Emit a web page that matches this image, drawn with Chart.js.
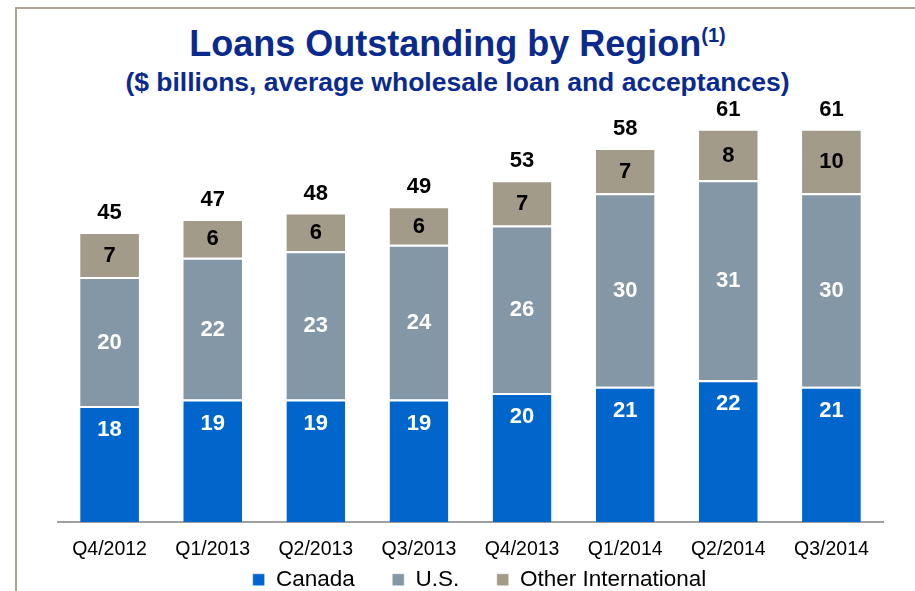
<!DOCTYPE html>
<html>
<head>
<meta charset="utf-8">
<script src="https://cdn.jsdelivr.net/npm/chart.js@4.4.0/dist/chart.umd.min.js"></script>
<style>
  html, body { margin: 0; padding: 0; background: #fff; }
  #wrap { position: relative; width: 915px; height: 591px; overflow: hidden; font-family: "Liberation Sans", Arial, sans-serif; }
  #frame { position: absolute; left: 15px; top: 7px; right: -5px; bottom: -5px; border-top: 2px solid #aca392; border-left: 2px solid #aca392; }
  .ttl { position: absolute; left: 0; width: 915px; text-align: center; font-weight: bold; color: #0b2a8e; }
  #t1 { top: 23px; font-size: 36px; }
  #t1 sup { font-size: 20px; vertical-align: 14px; }
  #t2 { top: 67px; font-size: 26.5px; }
  canvas { position: absolute; left: 0; top: 0; }
</style>
</head>
<body>
<div id="wrap">
  <div id="frame"></div>
  <div class="ttl" id="t1">Loans Outstanding by Region<sup>(1)</sup></div>
  <div class="ttl" id="t2">($ billions, average wholesale loan and acceptances)</div>
  <canvas id="chart" width="915" height="601"></canvas>
</div>
<script>
var quarters = ["Q4/2012", "Q1/2013", "Q2/2013", "Q3/2013", "Q4/2013", "Q1/2014", "Q2/2014", "Q3/2014"];
var canada = [18, 19, 19, 19, 20, 21, 22, 21];
var us = [20, 22, 23, 24, 26, 30, 31, 30];
var otherIntl = [7, 6, 6, 6, 7, 7, 8, 10];
var totals = [45, 47, 48, 49, 53, 58, 61, 61];

var FONT = "'Liberation Sans', Arial, sans-serif";

// segment values (Canada ones hang near the top of the bar), totals above each stack
var barLabels = {
  id: "barLabels",
  afterLayout: function (chart) {
    // legend sits a little right of the plot centre
    chart.legend.left += 9;
    chart.legend.right += 9;
  },
  afterDatasetsDraw: function (chart) {
    var ctx = chart.ctx;
    ctx.save();
    ctx.textAlign = "center";
    ctx.textBaseline = "middle";
    ctx.font = "bold 22px " + FONT;
    chart.data.datasets.forEach(function (ds, i) {
      var meta = chart.getDatasetMeta(i);
      meta.data.forEach(function (bar, j) {
        var y = ds.labelTop ? bar.y + ds.labelTop : (bar.y + bar.base) / 2 + 1;
        ctx.fillStyle = ds.labelColor;
        ctx.fillText(ds.data[j], bar.x, y);
      });
    });
    var top = chart.getDatasetMeta(chart.data.datasets.length - 1);
    ctx.fillStyle = "#000";
    top.data.forEach(function (bar, j) {
      ctx.fillText(totals[j], bar.x, bar.y - 19);
    });
    ctx.restore();
  }
};

var ctx = document.getElementById("chart").getContext("2d");
var myChart = new Chart(ctx, {
  type: "bar",
  data: {
    labels: quarters,
    datasets: [
      { label: "Canada", data: canada, backgroundColor: "#0066cc", labelColor: "#fff", labelTop: 24 },
      { label: "U.S.", data: us, backgroundColor: "#8497a6", labelColor: "#fff" },
      { label: "Other International", data: otherIntl, backgroundColor: "#a39b89", labelColor: "#000" }
    ].map(function (d) {
      d.borderColor = "#fff";
      d.borderWidth = { top: 2, left: 0, right: 0, bottom: 0 };
      d.borderSkipped = false;
      d.barPercentage = 0.57;
      d.categoryPercentage = 1;
      return d;
    })
  },
  options: {
    responsive: false,
    animation: false,
    layout: { padding: { left: 58, right: 32, top: 103, bottom: 0 } },
    plugins: {
      legend: {
        position: "bottom",
        labels: {
          boxWidth: 12,
          boxHeight: 12,
          padding: 0,
          color: "#000",
          font: { size: 22.5, family: FONT },
          // wider gaps between legend entries
          generateLabels: function (chart) {
            var items = Chart.defaults.plugins.legend.labels.generateLabels(chart);
            items.forEach(function (it, i) {
              if (i < items.length - 1) it.text += "\u00a0\u00a0\u00a0\u00a0\u00a0\u00a0";
            });
            return items;
          }
        }
      },
      tooltip: { enabled: false }
    },
    scales: {
      x: {
        stacked: true,
        grid: { display: false, drawTicks: false },
        border: { color: "#a0a0a0", width: 2 },
        ticks: { color: "#000", padding: 17.5, font: { size: 19.5, lineHeight: 1, family: FONT } },
        afterFit: function (scale) { scale.height = 46.5; }
      },
      y: {
        stacked: true,
        display: false,
        min: 0,
        max: 65
      }
    }
  },
  plugins: [barLabels]
});
</script>
</body>
</html>
